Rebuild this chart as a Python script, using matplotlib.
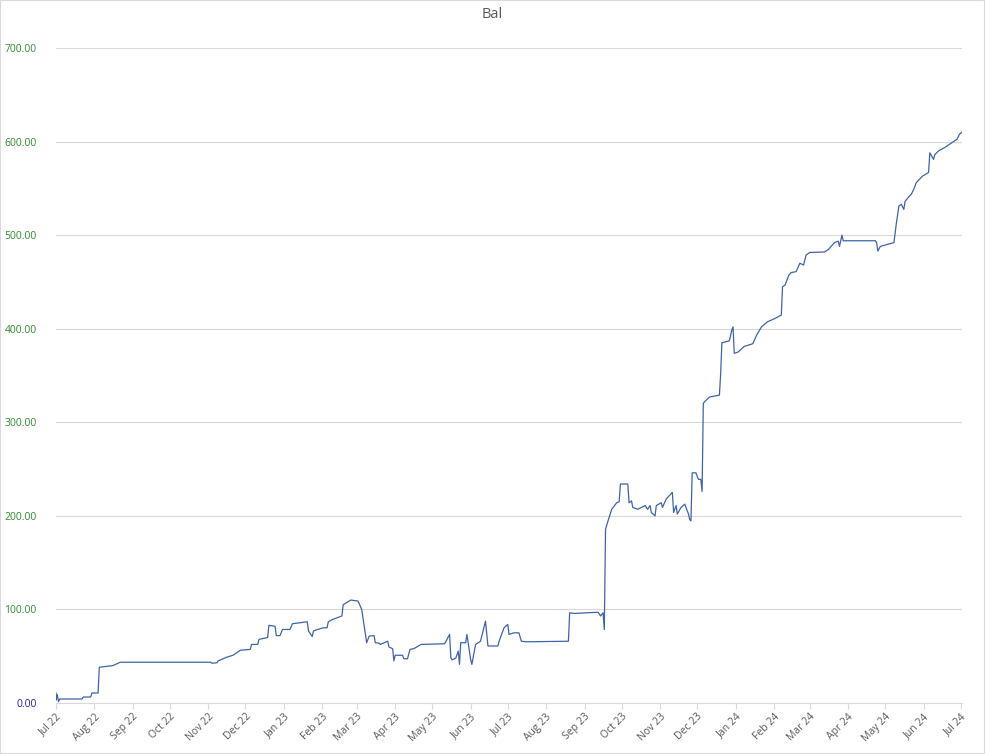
import matplotlib
matplotlib.use('Agg')
import matplotlib.pyplot as plt
import matplotlib.dates as mdates
from matplotlib.patches import Rectangle
import pandas as pd

plt.rcParams['font.family'] = ['Open Sans', 'DejaVu Sans']

# balance readings (date, value)
dates = [
    '2022-07-01', '2022-07-01', '2022-07-02', '2022-07-03', '2022-07-04', '2022-07-22', '2022-07-23',
    '2022-07-29', '2022-07-30', '2022-08-04', '2022-08-05', '2022-08-16', '2022-08-22', '2022-11-03',
    '2022-11-04', '2022-11-08', '2022-11-09', '2022-11-16', '2022-11-21', '2022-11-27', '2022-12-05',
    '2022-12-06', '2022-12-11', '2022-12-12', '2022-12-19', '2022-12-20', '2022-12-25', '2022-12-26',
    '2022-12-29', '2022-12-31', '2023-01-06', '2023-01-08', '2023-01-20', '2023-01-21', '2023-01-24',
    '2023-01-25', '2023-01-27', '2023-02-02', '2023-02-05', '2023-02-06', '2023-02-09', '2023-02-17',
    '2023-02-18', '2023-02-24', '2023-03-02', '2023-03-05', '2023-03-09', '2023-03-11', '2023-03-15',
    '2023-03-16', '2023-03-19', '2023-03-20', '2023-03-26', '2023-03-27', '2023-03-30', '2023-03-31',
    '2023-04-01', '2023-04-07', '2023-04-08', '2023-04-11', '2023-04-13', '2023-04-16', '2023-04-22',
    '2023-05-11', '2023-05-15', '2023-05-16', '2023-05-17', '2023-05-20', '2023-05-22', '2023-05-23',
    '2023-05-24', '2023-05-28', '2023-05-29', '2023-06-01', '2023-06-02', '2023-06-05', '2023-06-09',
    '2023-06-13', '2023-06-15', '2023-06-23', '2023-06-24', '2023-06-28', '2023-07-01', '2023-07-02',
    '2023-07-06', '2023-07-10', '2023-07-12', '2023-07-16', '2023-08-19', '2023-08-20', '2023-08-24',
    '2023-09-12', '2023-09-14', '2023-09-16', '2023-09-17', '2023-09-18', '2023-09-20', '2023-09-23',
    '2023-09-27', '2023-09-29', '2023-09-30', '2023-10-06', '2023-10-07', '2023-10-09', '2023-10-10',
    '2023-10-14', '2023-10-17', '2023-10-20', '2023-10-22', '2023-10-24', '2023-10-25', '2023-10-28',
    '2023-10-29', '2023-11-02', '2023-11-03', '2023-11-06', '2023-11-11', '2023-11-12', '2023-11-14',
    '2023-11-15', '2023-11-18', '2023-11-21', '2023-11-24', '2023-11-25', '2023-11-26', '2023-11-27',
    '2023-11-30', '2023-12-02', '2023-12-04', '2023-12-05', '2023-12-06', '2023-12-07', '2023-12-11',
    '2023-12-19', '2023-12-20', '2023-12-21', '2023-12-27', '2023-12-29', '2023-12-30', '2023-12-31',
    '2024-01-03', '2024-01-08', '2024-01-15', '2024-01-18', '2024-01-22', '2024-01-27', '2024-02-02',
    '2024-02-07', '2024-02-08', '2024-02-10', '2024-02-13', '2024-02-15', '2024-02-19', '2024-02-22',
    '2024-02-25', '2024-02-27', '2024-03-01', '2024-03-13', '2024-03-16', '2024-03-21', '2024-03-24',
    '2024-03-25', '2024-03-27', '2024-03-28', '2024-04-23', '2024-04-24', '2024-04-25', '2024-04-27',
    '2024-05-08', '2024-05-10', '2024-05-12', '2024-05-14', '2024-05-16', '2024-05-17', '2024-05-20',
    '2024-05-22', '2024-05-24', '2024-05-26', '2024-05-31', '2024-06-05', '2024-06-06', '2024-06-09',
    '2024-06-10', '2024-06-13', '2024-06-18', '2024-06-24', '2024-06-28', '2024-06-30', '2024-07-02',
]
bal = [
    10.7, 3.0, 9.0, 1.5, 4.3, 4.3, 6.4,
    6.4, 10.7, 10.7, 38.2, 40.0, 43.6, 43.6,
    42.5, 43.0, 45.0, 49.0, 51.0, 56.4, 57.3,
    62.6, 62.6, 68.0, 70.0, 83.0, 82.0, 72.0,
    72.0, 78.6, 78.6, 84.7, 86.8, 77.0, 71.0,
    77.0, 78.0, 80.4, 80.4, 86.8, 89.0, 93.0,
    105.0, 110.0, 109.0, 100.0, 64.4, 71.5, 72.0,
    64.4, 64.0, 62.6, 66.0, 60.0, 58.0, 45.0,
    51.0, 51.0, 47.3, 47.3, 57.3, 58.0, 62.6,
    63.3, 73.3, 48.4, 46.0, 48.0, 55.5, 41.3,
    64.4, 64.4, 73.3, 46.6, 41.3, 62.6, 66.0,
    87.5, 60.9, 61.0, 66.0, 80.4, 84.0, 73.3,
    75.0, 75.0, 66.0, 65.4, 66.0, 96.4, 95.7,
    97.0, 93.0, 96.4, 78.6, 185.7, 194.6, 207.0,
    214.0, 215.0, 234.0, 234.0, 214.0, 216.0, 209.0,
    207.0, 209.0, 211.0, 207.0, 211.0, 203.6, 200.0,
    211.0, 214.0, 209.0, 218.0, 225.0, 203.6, 211.0,
    202.0, 209.0, 212.5, 202.0, 196.0, 194.6, 246.0,
    246.0, 239.0, 239.0, 226.0, 320.0, 322.0, 327.0,
    329.0, 352.0, 385.0, 387.0, 398.6, 402.0, 373.7,
    375.0, 381.0, 384.0, 393.0, 402.0, 407.5, 411.0,
    414.6, 444.8, 446.6, 457.0, 460.0, 461.0, 470.0,
    468.0, 478.6, 481.5, 482.0, 484.6, 492.0, 493.6,
    488.0, 500.0, 494.0, 494.0, 492.0, 483.0, 488.0,
    492.0, 513.0, 531.0, 533.0, 527.5, 536.0, 541.0,
    543.6, 549.0, 556.0, 563.0, 567.0, 588.0, 581.0,
    586.0, 590.0, 593.6, 599.0, 602.5, 608.0, 610.0,
]
yticks = [0, 100, 200, 300, 400, 500, 600, 700]

df = pd.DataFrame({'date': pd.to_datetime(dates), 'bal': bal})

fig = plt.figure(figsize=(9.85, 7.54), dpi=100)
ax = fig.add_axes([56/985, 1 - 703/754, (962 - 56)/985, (703 - 48)/754])

ax.plot(df['date'], df['bal'], color='#4063a8', linewidth=0.9)

ax.set_ylim(0, 700)
ax.set_yticks(yticks)
ax.set_yticklabels(['%.2f' % v for v in yticks], fontsize=7.5)
for lbl, v in zip(ax.get_yticklabels(), yticks):
    lbl.set_color('#2222aa' if v == 0 else '#2e8b2e')
ax.tick_params(axis='y', length=0, pad=14)
ax.yaxis.grid(True, color='#d9d9d9', linewidth=0.8)

ax.set_xlim(pd.Timestamp('2022-07-01'), pd.Timestamp('2024-07-02'))
ax.xaxis.set_major_locator(mdates.MonthLocator())
ax.xaxis.set_major_formatter(mdates.DateFormatter('%b %y'))
ax.tick_params(axis='x', length=4, color='#d9d9d9', labelsize=7.5,
               labelcolor='#595959', pad=2)
plt.setp(ax.get_xticklabels(), rotation=45, ha='right', rotation_mode='anchor')

for s in ['top', 'right', 'left']:
    ax.spines[s].set_visible(False)
ax.spines['bottom'].set_color('#d9d9d9')
ax.set_axisbelow(True)

fig.text(0.5, 1 - 14/754, 'Bal', ha='center', va='center', fontsize=10.5, color='#595959')

# light chart border
fig.patches.append(Rectangle((0.0005, 0.0005), 0.999, 0.999, transform=fig.transFigure,
                             fill=False, edgecolor='#d9d9d9', linewidth=1.5))

fig.savefig('out.png', dpi=100)
